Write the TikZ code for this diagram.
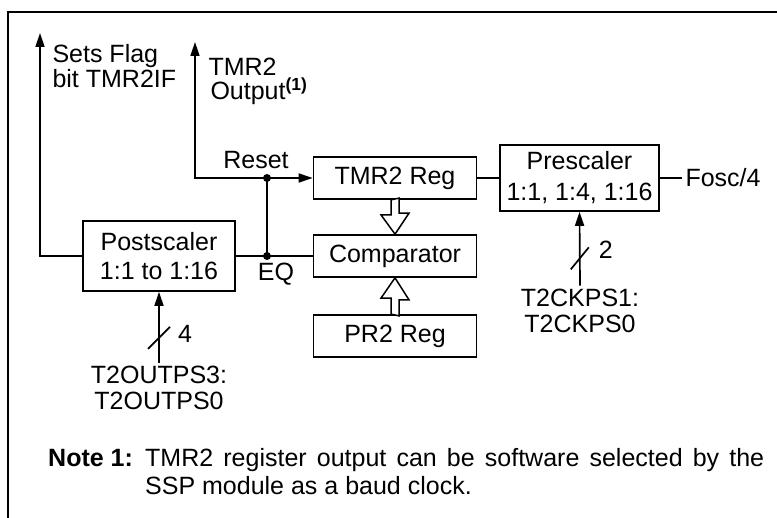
\documentclass[tikz,border=0pt]{standalone}
\usepackage{fontspec}
\setmainfont{Liberation Sans}
\usetikzlibrary{arrows.meta,calc,positioning}

\begin{document}
\begin{tikzpicture}[x=1pt,y=-1pt,
    font=\fontsize{25}{28}\selectfont,
    box/.style={draw, line width=1.7pt, align=center, inner sep=0pt},
    wire/.style={line width=1.7pt},
    sig/.style={wire, -{Triangle[length=14pt,width=9pt]}},
    hollow/.style={line width=1.5pt, fill=white, line join=miter},
    dot/.style={circle, fill, inner sep=0pt, minimum size=8pt}]
    \useasboundingbox (0,0) rectangle (777,518);
    % frame
    \draw[wire] (8,518) -- (8,12) -- (777,12);
    % blocks
    \node[box, minimum width=152pt, minimum height=70pt] (post) at (159,256) {Postscaler\\[1pt]1:1 to 1:16};
    \node[box, minimum width=163pt, minimum height=42pt] (tmr) at (395,178) {TMR2 Reg};
    \node[box, minimum width=163pt, minimum height=42pt] (comp) at (395,256) {Comparator};
    \node[box, minimum width=163pt, minimum height=42pt] (pr2) at (395,336) {PR2 Reg};
    \node[box, minimum width=159pt, minimum height=66pt] (pre) at (579.5,178) {Prescaler\\[3pt]1:1, 1:4, 1:16};
    % labels
    \node[anchor=west, align=left, font=\fontsize{25}{25}\selectfont] (flagtxt) at (49,66) {Sets Flag\\bit TMR2IF};
    \node[anchor=north west, align=left, font=\fontsize{25}{24}\selectfont] (outtxt) at (205,55) {TMR2\\\hspace*{2pt}Output\textsuperscript{\bfseries(1)}};
    \node (rsttxt) at (256,160) {Reset};
    \node (eqtxt) at (276,274) {EQ};
    \node[anchor=west] (fosc) at (682,178) {Fosc/4};
    \node[align=center, font=\fontsize{25}{26}\selectfont] (outps) at (159,388) {T2OUTPS3:\\T2OUTPS0};
    \node[align=center, font=\fontsize{25}{26}\selectfont] (ckps) at (580,311) {T2CKPS1:\\T2CKPS0};
    \coordinate (flag) at (40,33);
    \coordinate (tmrout) at (195,42);
    \coordinate (eq) at (267,256);
    \coordinate (rst) at (267,178);
    % connections
    \draw[sig] (post.west) -| (flag);
    \draw[wire] (post.east) -- (comp.west);
    \draw[wire] (eq) -- (rst);
    \draw[wire, {Triangle[length=14pt,width=9pt]}-{Triangle[length=14pt,width=9pt]}] (tmrout) |- (tmr.west);
    \node[dot] at (eq) {};
    \node[dot] at (rst) {};
    \draw[wire] (tmr.east) -- (pre.west);
    \draw[wire] (pre.east) -- (fosc.west);
    \draw[sig] (outps.north) -- coordinate[pos=0.35] (bus4) (post.south);
    \draw[wire] (bus4) +(-11,11) -- +(11,-11);
    \node (n4) at ($(bus4)+(26,-4)$) {4};
    \draw[sig] (ckps.north) -- coordinate[pos=0.37] (bus2) (pre.south);
    \draw[wire] (bus2) +(-9,11) -- +(9,-11);
    \node (n2) at ($(bus2)+(26,-9)$) {2};
    % hollow arrows
    \draw[hollow] (tmr.south) ++(-4,0) -- ++(0,15) -- ++(-10,0) -- (comp.north) -- ++(14,-21) -- ++(-10,0) -- ++(0,-15) -- cycle;
    \draw[hollow] (pr2.north) ++(-4,0) -- ++(0,-16) -- ++(-10,0) -- (comp.south) -- ++(14,22) -- ++(-10,0) -- ++(0,16) -- cycle;
    % note
    \node[anchor=north west, inner sep=0pt] (notehd) at (48,447) {\strut\bfseries Note 1:};
    \node[anchor=north west, inner sep=0pt, text width=619pt, align=justify] (note) at (145,447) {\strut TMR2 register output can be software selected by the\linebreak SSP module as a baud clock.};
\end{tikzpicture}
\end{document}
